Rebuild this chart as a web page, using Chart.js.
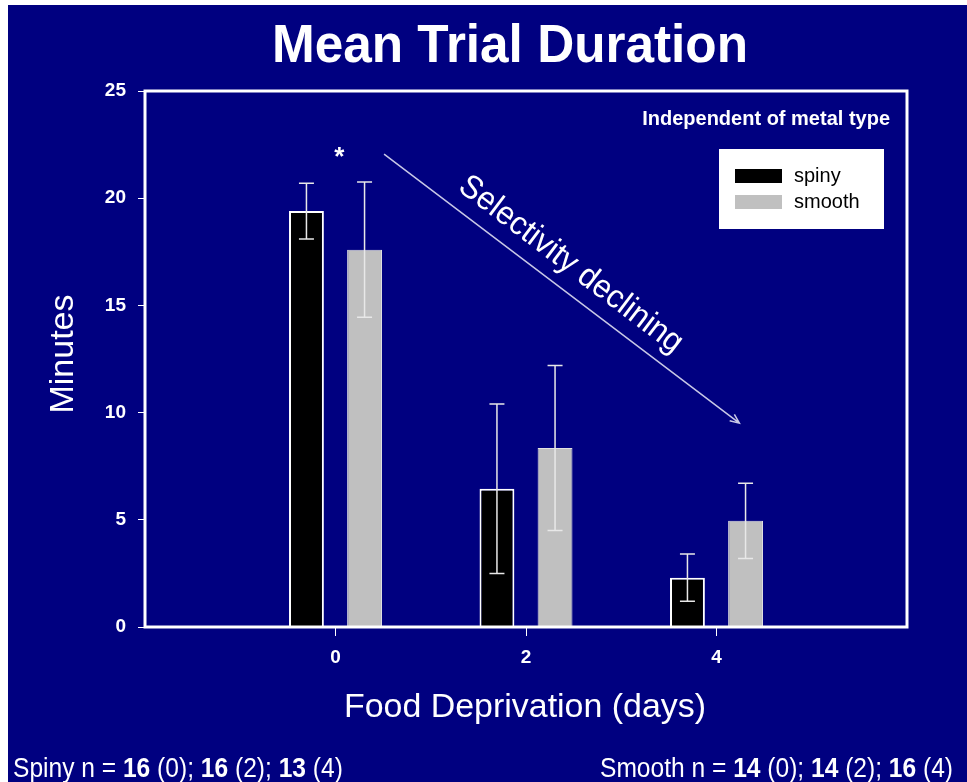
<!DOCTYPE html>
<html>
<head>
<meta charset="utf-8">
<title>Mean Trial Duration</title>
<script src="https://cdn.jsdelivr.net/npm/chart.js@4.4.1/dist/chart.umd.min.js"></script>
<style>
  html, body { margin: 0; padding: 0; background: #fff; }
  canvas { display: block; }
</style>
</head>
<body>
<canvas id="chart" width="967" height="782"></canvas>
<script>
// values (minutes)
const days = [0, 2, 4];
const dayTicks = ['0', '2', '4'];
const spinyMean = [19.4, 6.45, 2.3];
const spinyErr = [1.3, 3.95, 1.1];
const smoothMean = [17.6, 8.35, 4.95];
const smoothErr = [3.15, 3.85, 1.75];
const spinyN = [16, 16, 13];
const smoothN = [14, 14, 16];
const yTicks = [0, 5, 10, 15, 20, 25];

const FONT = '"Liberation Sans", Arial, Helvetica, sans-serif';
const NAVY = '#000080';
Chart.defaults.font.family = FONT;

function drawLabel(ctx, text, x, y, font, opts = {}) {
    ctx.save();
    ctx.font = font;
    ctx.fillStyle = opts.color || '#fff';
    ctx.textAlign = opts.align || 'center';
    ctx.textBaseline = opts.baseline || 'alphabetic';
    ctx.translate(x, y);
    if (opts.rotate) ctx.rotate(opts.rotate);
    if (opts.width) ctx.fillText(text, 0, 0, opts.width);
    else ctx.fillText(text, 0, 0);
    ctx.restore();
}

// "Spiny n = 16 (0); ..." with the counts in bold
function sampleParts(name, counts) {
    const parts = [{ t: name + ' n = ' }];
    counts.forEach((n, i) => {
        parts.push({ t: String(n), b: true });
        parts.push({ t: ' (' + dayTicks[i] + ')' + (i < counts.length - 1 ? '; ' : '') });
    });
    return parts;
}

function drawRich(ctx, parts, x, y, size, squeeze) {
    ctx.save();
    ctx.fillStyle = '#fff';
    ctx.textAlign = 'left';
    ctx.textBaseline = 'alphabetic';
    ctx.translate(x, y);
    ctx.scale(squeeze, 1);
    let cx = 0;
    parts.forEach(p => {
        ctx.font = (p.b ? 'bold ' : '') + size + 'px ' + FONT;
        ctx.fillText(p.t, cx, 0);
        cx += ctx.measureText(p.t).width;
    });
    ctx.restore();
}

const background = {
    id: 'background',
    beforeDraw(chart) {
        const ctx = chart.ctx;
        ctx.save();
        ctx.fillStyle = '#fff';
        ctx.fillRect(0, 0, chart.width, chart.height);
        ctx.fillStyle = NAVY;
        ctx.fillRect(8, 5, chart.width - 8, chart.height - 5);
        ctx.restore();
    }
};

const errorBars = {
    id: 'errorBars',
    afterDatasetsDraw(chart) {
        const ctx = chart.ctx;
        const y = chart.scales.y;
        ctx.save();
        ctx.strokeStyle = '#e8e8e8';
        ctx.lineWidth = 1.5;
        chart.data.datasets.forEach((ds, di) => {
            const meta = chart.getDatasetMeta(di);
            meta.data.forEach((bar, i) => {
                const v = ds.data[i].y;
                const e = ds.errors[i];
                const top = y.getPixelForValue(v + e);
                const bot = y.getPixelForValue(v - e);
                ctx.beginPath();
                ctx.moveTo(bar.x, top); ctx.lineTo(bar.x, bot);
                ctx.moveTo(bar.x - 7.5, top); ctx.lineTo(bar.x + 7.5, top);
                ctx.moveTo(bar.x - 7.5, bot); ctx.lineTo(bar.x + 7.5, bot);
                ctx.stroke();
            });
        });
        // plot frame
        const a = chart.chartArea;
        ctx.strokeStyle = '#fff';
        ctx.lineWidth = 3;
        ctx.strokeRect(a.left, a.top, a.right - a.left, a.bottom - a.top);
        ctx.restore();
    }
};

const annotations = {
    id: 'annotations',
    afterDraw(chart) {
        const ctx = chart.ctx;
        const xs = chart.scales.x, ys = chart.scales.y;

        drawLabel(ctx, 'Mean Trial Duration', 510, 62, 'bold 53px ' + FONT, { width: 476 });
        drawLabel(ctx, 'Minutes', 64, 354, '34px ' + FONT, { rotate: -Math.PI / 2, baseline: 'middle', width: 127 });
        drawLabel(ctx, 'Food Deprivation (days)', 525, 717, '34px ' + FONT, { width: 362 });
        drawLabel(ctx, 'Independent of metal type', 890, 125, 'bold 20px ' + FONT, { align: 'right', width: 256 });

        // significance star over day 0
        drawLabel(ctx, '*', xs.getPixelForValue(0.04), ys.getPixelForValue(21.9), 'bold 26px ' + FONT, { baseline: 'middle' });

        // trend arrow
        const x1 = xs.getPixelForValue(0.51), y1 = ys.getPixelForValue(22.06);
        const x2 = xs.getPixelForValue(4.24), y2 = ys.getPixelForValue(9.51);
        const ang = Math.atan2(y2 - y1, x2 - x1);
        ctx.save();
        ctx.strokeStyle = '#c8c8e6';
        ctx.lineWidth = 1.5;
        ctx.beginPath();
        ctx.moveTo(x1, y1); ctx.lineTo(x2, y2);
        ctx.moveTo(x2 - 10 * Math.cos(ang - 0.4), y2 - 10 * Math.sin(ang - 0.4));
        ctx.lineTo(x2, y2);
        ctx.lineTo(x2 - 10 * Math.cos(ang + 0.4), y2 - 10 * Math.sin(ang + 0.4));
        ctx.stroke();
        ctx.restore();
        drawLabel(ctx, 'Selectivity declining', xs.getPixelForValue(2.47), ys.getPixelForValue(16.9),
            '33px ' + FONT, { rotate: ang, baseline: 'middle', width: 272 });

        // legend box
        ctx.save();
        ctx.fillStyle = '#fff';
        ctx.fillRect(719, 149, 165, 80);
        chart.data.datasets.forEach((ds, i) => {
            const top = 169 + i * 26;
            ctx.fillStyle = ds.backgroundColor;
            ctx.fillRect(735, top, 47, 14);
            drawLabel(ctx, ds.label, 794, top + 13, '20px ' + FONT, { align: 'left', color: '#000' });
        });
        ctx.restore();

        // sample sizes
        drawRich(ctx, sampleParts('Spiny', spinyN), 13, 777, 27, 0.91);
        drawRich(ctx, sampleParts('Smooth', smoothN), 600, 777, 27, 0.91);
    }
};

new Chart(document.getElementById('chart'), {
    type: 'bar',
    data: {
        datasets: [{
            label: 'spiny',
            data: days.map((d, i) => ({ x: d, y: spinyMean[i] })),
            errors: spinyErr,
            backgroundColor: '#000000',
            borderColor: '#ffffff',
            borderWidth: 2,
            categoryPercentage: 0.61,
            barPercentage: 0.6
        }, {
            label: 'smooth',
            data: days.map((d, i) => ({ x: d, y: smoothMean[i] })),
            errors: smoothErr,
            backgroundColor: '#c0c0c0',
            borderColor: '#e2e2e2',
            borderWidth: 1,
            categoryPercentage: 0.61,
            barPercentage: 0.6
        }]
    },
    options: {
        responsive: false,
        animation: false,
        devicePixelRatio: 1,
        layout: { padding: { left: 95, right: 60, top: 91, bottom: 115 } },
        plugins: {
            legend: { display: false },
            title: { display: false },
            tooltip: { enabled: false }
        },
        scales: {
            x: {
                type: 'linear',
                min: -2,
                max: 6,
                offset: false,
                border: { display: false },
                grid: { offset: false, drawOnChartArea: false, tickLength: 9, color: '#ffffff', lineWidth: 1 },
                ticks: {
                    color: '#ffffff',
                    font: { size: 19, weight: 'bold' },
                    padding: 10,
                    callback: (v, i) => dayTicks[i]
                },
                afterBuildTicks: axis => { axis.ticks = days.map(v => ({ value: v })); },
                afterFit: scale => { scale.height = 40; }
            },
            y: {
                min: 0,
                max: 25,
                border: { display: false },
                grid: { drawOnChartArea: false, tickLength: 7, color: '#ffffff', lineWidth: 1 },
                ticks: {
                    color: '#ffffff',
                    font: { size: 19, weight: 'bold' },
                    padding: 12
                },
                afterBuildTicks: axis => { axis.ticks = yTicks.map(v => ({ value: v })); },
                afterFit: scale => { scale.width = 50; }
            }
        }
    },
    plugins: [background, errorBars, annotations]
});
</script>
</body>
</html>
